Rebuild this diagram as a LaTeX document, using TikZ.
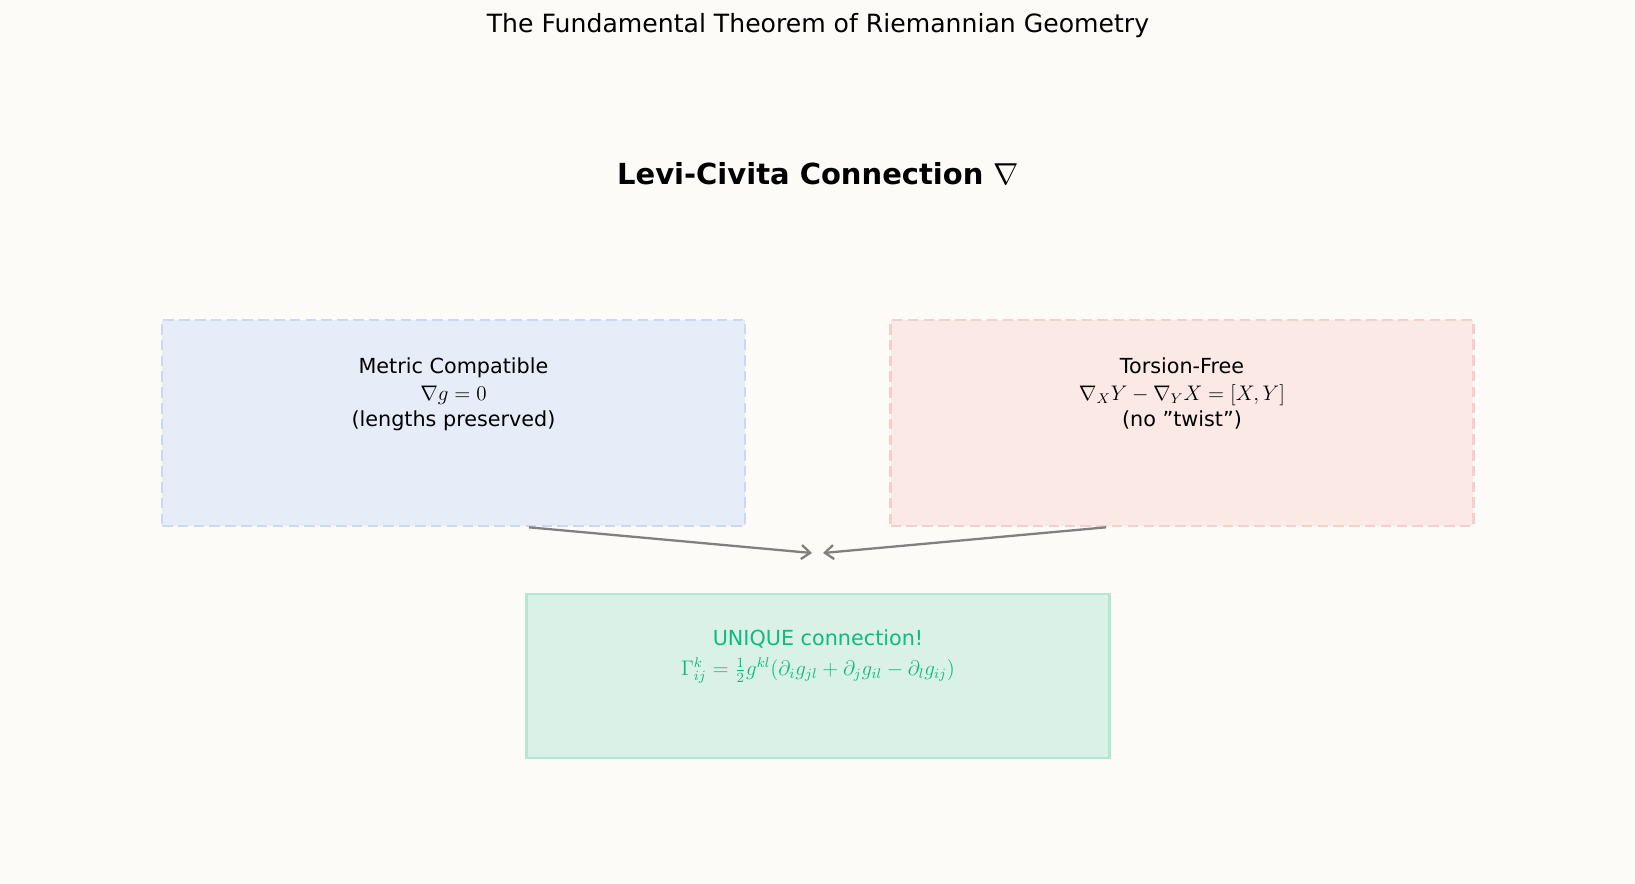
\documentclass[tikz,border=0pt]{standalone}
\usepackage{fontspec}
\setmainfont{DejaVu Sans}
\usepackage{xcolor}
\usetikzlibrary{arrows.meta, calc}
\definecolor{bgcol}{HTML}{FCFBF8}
\definecolor{metricfill}{HTML}{E6EDF8}
\definecolor{metricline}{HTML}{C9D8F5}
\definecolor{torsionfill}{HTML}{FAE9E4}
\definecolor{torsionline}{HTML}{F5D0C8}
\definecolor{uniquefill}{HTML}{D9F1E7}
\definecolor{uniqueline}{HTML}{B5E6D3}
\definecolor{uniquetext}{HTML}{10B981}

\begin{document}
\begin{tikzpicture}[x=0.02cm, y=-0.02cm, font=\fontsize{11.8}{15}\selectfont,
  box/.style={draw, line width=1.5pt, minimum width=11.66cm, minimum height=4.12cm, inner sep=0pt},
  dashbox/.style={box, dash pattern=on 6pt off 3pt},
  boxtext/.style={align=center, anchor=north},
  joinarrow/.style={draw=gray, line width=1.3pt, -{Straight Barb[length=5pt, width=8pt]}}]
  % canvas
  \fill[bgcol] (0,0) rectangle (1635,883);
  \useasboundingbox (0,0) rectangle (1635,883);

  % headings
  \node (title) at (818,26) {\fontsize{14.3}{16}\selectfont The Fundamental Theorem of Riemannian Geometry};
  \node (heading) at (818,174) {\fontsize{16.5}{18}\selectfont\bfseries Levi-Civita Connection $\nabla$};

  % the two conditions
  \node[dashbox, draw=metricline, fill=metricfill] (metric) at (453.5,423) {};
  \node[dashbox, draw=torsionline, fill=torsionfill] (torsion) at (1182,423) {};
  \node[boxtext] (metrictext) at ($(metric.north)+(0,33)$)
    {Metric Compatible\\$\nabla g = 0$\\(lengths preserved)};
  \node[boxtext] (torsiontext) at ($(torsion.north)+(0,33)$)
    {Torsion-Free\\$\nabla_X Y - \nabla_Y X = [X,Y]$\\(no \symbol{34}twist\symbol{34})};

  % the result
  \node[box, draw=uniqueline, fill=uniquefill, minimum height=3.28cm] (unique) at (818,676) {};
  \node[boxtext, text=uniquetext, font=\fontsize{11.8}{17}\selectfont] (uniquetext) at ($(unique.north)+(0,31)$)
    {UNIQUE connection!\\$\Gamma^k_{ij} = \frac{1}{2} g^{kl}(\partial_i g_{jl} + \partial_j g_{il} - \partial_l g_{ij})$};

  \coordinate (meetL) at (812,553);
  \coordinate (meetR) at (823,553);
  \draw[joinarrow] ($(metric.south)+(75.5,0)$) -- (meetL);
  \draw[joinarrow] ($(torsion.south)+(-76,0)$) -- (meetR);
\end{tikzpicture}
\end{document}
